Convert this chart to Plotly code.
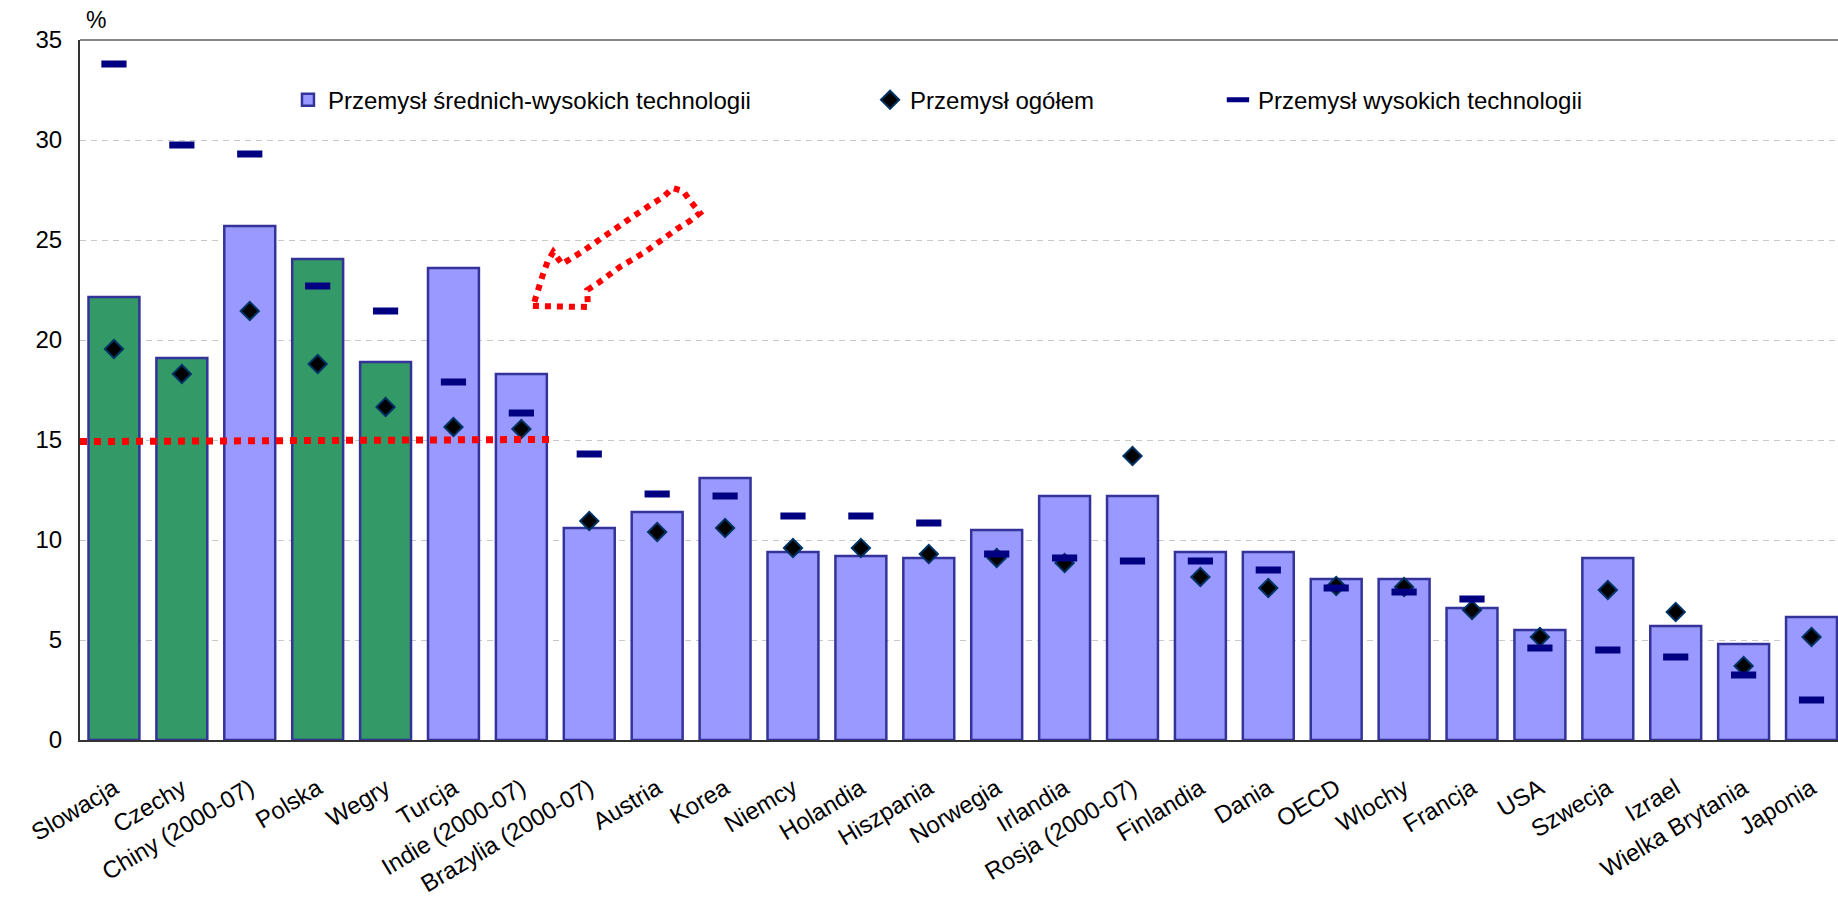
import plotly.graph_objects as go

# ---------------- data ----------------
categories = ["Slowacja", "Czechy", "Chiny (2000-07)", "Polska", "Wegry", "Turcja",
              "Indie (2000-07)", "Brazylia (2000-07)", "Austria", "Korea", "Niemcy",
              "Holandia", "Hiszpania", "Norwegia", "Irlandia", "Rosja (2000-07)",
              "Finlandia", "Dania", "OECD", "Wlochy", "Francja", "USA", "Szwecja",
              "Izrael", "Wielka Brytania", "Japonia"]

medium_high_tech = [22.15, 19.1, 25.7, 24.05, 18.9, 23.6, 18.3, 10.6, 11.4, 13.1, 9.4,
                    9.2, 9.1, 10.5, 12.2, 12.2, 9.4, 9.4, 8.05, 8.05, 6.6, 5.5, 9.1,
                    5.7, 4.8, 6.15]
total_industry = [19.55, 18.3, 21.45, 18.8, 16.65, 15.65, 15.55, 10.95, 10.4, 10.6, 9.6,
                  9.6, 9.3, 9.1, 8.85, 14.2, 8.15, 7.6, 7.7, 7.65, 6.5, 5.15, 7.5,
                  6.4, 3.7, 5.15]
high_tech = [33.8, 29.75, 29.3, 22.7, 21.45, 17.9, 16.35, 14.3, 12.3, 12.2, 11.2,
             11.2, 10.85, 9.3, 9.1, 8.95, 8.95, 8.5, 7.6, 7.4, 7.05, 4.6, 4.5,
             4.15, 3.25, 2.0]
highlighted = ["Slowacja", "Czechy", "Polska", "Wegry"]

series_names = ["Przemysł średnich-wysokich technologii", "Przemysł ogółem",
                "Przemysł wysokich technologii"]
y_ticks = [0, 5, 10, 15, 20, 25, 30, 35]

# red hand-drawn annotation outline (x in category units, y in %)
arrow_outline = [(6.17, 21.7), (6.98, 21.65), (6.97, 22.5), (7.13, 22.85), (7.45, 23.65),
                 (7.82, 24.4), (8.29, 25.55), (8.48, 25.95), (8.63, 26.35), (8.50, 26.9),
                 (8.38, 27.45), (8.23, 27.6), (8.09, 27.15), (7.92, 26.8), (7.57, 26.0),
                 (7.25, 25.25), (6.91, 24.45), (6.60, 23.8), (6.47, 24.4), (6.39, 23.95),
                 (6.32, 23.3), (6.26, 22.65), (6.20, 22.0)]

# ---------------- build ----------------
idx = list(range(len(categories)))
blue_idx = [i for i, c in enumerate(categories) if c not in highlighted]
green_idx = [i for i, c in enumerate(categories) if c in highlighted]

FONT = "Liberation Sans, Arial, sans-serif"
fig = go.Figure()

fig.add_trace(go.Bar(
    x=blue_idx, y=[medium_high_tech[i] for i in blue_idx],
    width=0.75, name=series_names[0], legend="legend",
    marker=dict(color="#9999FF", line=dict(color="#333399", width=2.5)),
))
fig.add_trace(go.Bar(
    x=green_idx, y=[medium_high_tech[i] for i in green_idx],
    width=0.75, name=series_names[0], showlegend=False,
    marker=dict(color="#339966", line=dict(color="#333399", width=2.5)),
))
fig.add_trace(go.Scatter(
    x=idx, y=total_industry, mode="markers", name=series_names[1], legend="legend2",
    marker=dict(symbol="diamond", size=14, color="#000000",
                line=dict(color="#003366", width=2)),
))
fig.add_trace(go.Scatter(
    x=idx, y=high_tech, mode="markers", name=series_names[2], legend="legend3",
    marker=dict(symbol="line-ew", size=18, color="#000080",
                line=dict(color="#000080", width=7)),
))

legend_common = dict(orientation="h", yanchor="middle", y=0.914, xanchor="left",
                     bgcolor="rgba(0,0,0,0)", font=dict(family=FONT, size=24, color="#000"))

arrow_path = "M " + " L ".join(f"{x},{y}" for x, y in arrow_outline) + " Z"

fig.update_layout(
    width=1838, height=900,
    margin=dict(l=80, r=0, t=40, b=160),
    plot_bgcolor="white", paper_bgcolor="white",
    barmode="overlay",
    font=dict(family=FONT, size=22, color="#000"),
    legend=dict(x=0.1183, **legend_common),
    legend2=dict(x=0.4494, **legend_common),
    legend3=dict(x=0.6473, **legend_common),
    xaxis=dict(
        type="linear", range=[-0.5, 25.39],
        tickmode="array", tickvals=idx, ticktext=categories,
        tickangle=-31, tickfont=dict(family=FONT, size=24),
        showgrid=False, zeroline=False, showline=True,
        linecolor="#333333", linewidth=2, ticks="", ticklabelstandoff=23,
    ),
    yaxis=dict(
        range=[0, 35], tickmode="array", tickvals=y_ticks,
        tickfont=dict(family=FONT, size=24),
        showgrid=True, gridcolor="#C8C8C8", gridwidth=1, griddash="6px,5px",
        zeroline=False, showline=True, linecolor="#333333", linewidth=2,
        ticks="", ticklabelstandoff=11,
    ),
    shapes=[
        dict(type="line", xref="paper", yref="paper", x0=0, x1=1, y0=1, y1=1,
             line=dict(color="#888888", width=2)),
        dict(type="line", xref="x", yref="y", x0=-0.5, x1=6.47, y0=14.92, y1=15.03,
             line=dict(color="#FF0000", width=7, dash="7px,7px")),
        dict(type="path", xref="x", yref="y", path=arrow_path,
             line=dict(color="#FF0000", width=6, dash="6px,6px")),
    ],
    annotations=[
        dict(text="%", xref="paper", yref="paper", x=0.0091, y=1.0286,
             xanchor="center", yanchor="middle", showarrow=False,
             font=dict(family=FONT, size=23, color="#000")),
    ],
)

fig.write_html("out.html", config={"displayModeBar": False},
               post_script="document.body.style.margin='0px';")
